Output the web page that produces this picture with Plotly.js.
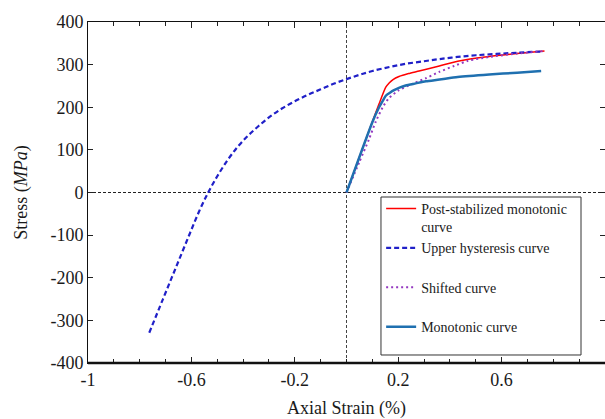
<!DOCTYPE html>
<html>
<head>
<meta charset="utf-8">
<script src="https://cdn.plot.ly/plotly-3.0.1.min.js"></script>
<style>html,body{margin:0;padding:0;background:#fff;}#chart{width:605px;height:419px;}</style>
</head>
<body>
<div id="chart"></div>
<script>
// Post-stabilized monotonic curve (red)
const postX = [0, 0.087, 0.126, 0.152, 0.165, 0.18, 0.203, 0.24, 0.281, 0.359, 0.43, 0.552, 0.66, 0.766];
const postY = [0, 145, 208, 247, 257, 265, 272, 279, 285, 297, 308, 319, 326, 332];
// Upper hysteresis curve (blue dashed)
const upperX = [-0.763, -0.71, -0.66, -0.61, -0.57, -0.535, -0.50, -0.46, -0.42, -0.38, -0.34, -0.30, -0.25, -0.20, -0.15, -0.10, -0.05, 0, 0.05, 0.10, 0.17, 0.23, 0.30, 0.36, 0.43, 0.50, 0.58, 0.66, 0.76];
const upperY = [-329, -250, -176, -102, -44, 0, 38, 76, 108, 134, 156, 176, 197, 214, 229, 242, 255, 266, 276, 285, 295, 302, 308, 313, 318, 322, 325, 328, 331];
// Shifted curve (purple dotted)
const shiftX = [0, 0.05, 0.087, 0.113, 0.14, 0.165, 0.203, 0.255, 0.307, 0.359, 0.417, 0.47, 0.552, 0.66, 0.766];
const shiftY = [0, 72, 125, 166, 200, 222, 240, 255, 268, 283, 297, 309, 318, 326, 332];
// Monotonic curve (steel blue)
const monoX = [0, 0.1, 0.126, 0.14, 0.152, 0.168, 0.184, 0.205, 0.229, 0.268, 0.307, 0.36, 0.43, 0.552, 0.66, 0.753];
const monoY = [0, 165, 200, 215, 227, 234, 240, 246, 251, 256, 261, 265, 271, 277, 281, 285];

const names = ["Post-stabilized monotonic<br>curve", "Upper hysteresis curve<br>&nbsp;", "Shifted curve<br>&nbsp;", "Monotonic curve"];

const xTickVals = [-1, -0.6, -0.2, 0.2, 0.6, 1];
const xTickText = ["-1", "-0.6", "-0.2", "0.2", "0.6", "1"];
const yTickVals = [-400, -300, -200, -100, 0, 100, 200, 300, 400];
const yTickText = ["-400", "-300", "-200", "-100", "0", "100", "200", "300", "400"];

const font = "Liberation Serif, Times New Roman, serif";

const traces = [
  {x: postX, y: postY, name: names[0], mode: "lines", line: {color: "#ff0000", width: 1.5, shape: "spline", smoothing: 0.6}},
  {x: upperX, y: upperY, name: names[1], mode: "lines", line: {color: "#2020c8", width: 2.2, dash: "5px,3px", shape: "spline", smoothing: 1}},
  {x: shiftX, y: shiftY, name: names[2], mode: "lines", line: {color: "#9438c0", width: 2, dash: "2px,3px", shape: "spline", smoothing: 0.6}},
  {x: monoX, y: monoY, name: names[3], mode: "lines", line: {color: "#1f70b0", width: 2.5, shape: "spline", smoothing: 0.6}}
];

const layout = {
  width: 605, height: 419,
  margin: {l: 88, r: 0, t: 22, b: 56},
  paper_bgcolor: "#fff", plot_bgcolor: "#fff",
  font: {family: font, size: 18, color: "#1a1a1a"},
  showlegend: true,
  legend: {
    x: 0.567, y: 0.499, xanchor: "left", yanchor: "top",
    borderwidth: 0, bgcolor: "rgba(0,0,0,0)",
    font: {family: font, size: 14, color: "#1a1a1a"},
    valign: "top", traceorder: "normal"
  },
  xaxis: {
    range: [-1, 1], tickmode: "array", tickvals: xTickVals, ticktext: xTickText,
    ticks: "inside", ticklen: 6, tickcolor: "#222", tickwidth: 1,
    minor: {tickmode: "linear", tick0: -1, dtick: 0.1, ticks: "inside", ticklen: 4, tickcolor: "#222", tickwidth: 1},
    showline: true, linecolor: "#111", linewidth: 1, mirror: "ticks",
    showgrid: false, zeroline: false,
    title: {text: "Axial Strain (%)", font: {family: font, size: 18}, standoff: 12}
  },
  yaxis: {
    range: [-400, 400], tickmode: "array", tickvals: yTickVals, ticktext: yTickText,
    ticks: "inside", ticklen: 5, tickcolor: "#222", tickwidth: 1,
    showline: true, linecolor: "#111", linewidth: 1, mirror: "ticks",
    showgrid: false, zeroline: false,
    title: {text: "Stress (<i>MPa</i>)", font: {family: font, size: 18}, standoff: 18}
  },
  shapes: [
    {type: "line", xref: "x", yref: "y", x0: -1, x1: 1, y0: 0, y1: 0, line: {color: "#222", width: 1, dash: "3px,2px"}, layer: "below"},
    {type: "line", xref: "x", yref: "paper", x0: 0, x1: 0, y0: 0, y1: 1, line: {color: "#444", width: 1, dash: "3px,2px"}, layer: "below"},
    {type: "line", xref: "paper", yref: "paper", x0: 0, x1: 1, y0: 0, y1: 0, line: {color: "#111", width: 2.5}},
    {type: "rect", xref: "paper", yref: "paper", x0: 0.5667, x1: 0.9536, y0: 0.0235, y1: 0.4868, line: {color: "#333", width: 1}, fillcolor: "#fff", layer: "above"}
  ]
};

Plotly.newPlot("chart", traces, layout, {displayModeBar: false, staticPlot: true});
</script>
</body>
</html>
